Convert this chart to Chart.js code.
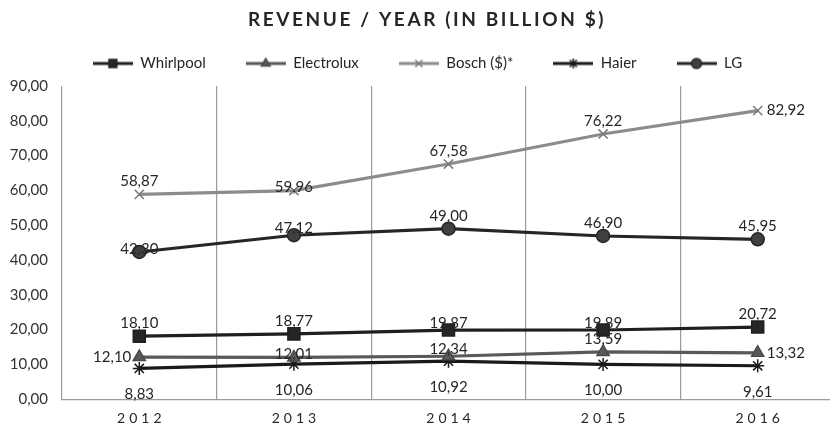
<!DOCTYPE html>
<html>
<head>
<meta charset="utf-8">
<script src="https://cdn.jsdelivr.net/npm/chart.js@4.4.1/dist/chart.umd.min.js"></script>
<style>
html, body { margin: 0; padding: 0; background: #fff; overflow: hidden; }
#wrap { width: 860px; height: 430px; }
</style>
</head>
<body>
<div id="wrap"><canvas id="chart" width="860" height="430"></canvas></div>
<script>
// chart data
const years = ['2012', '2013', '2014', '2015', '2016'];
const whirlpool = [18.10, 18.77, 19.87, 19.89, 20.72];
const electrolux = [12.10, 12.01, 12.34, 13.59, 13.32];
const bosch = [58.87, 59.96, 67.58, 76.22, 82.92];
const haier = [8.83, 10.06, 10.92, 10.00, 9.61];
const lg = [42.30, 47.12, 49.00, 46.90, 45.95];
const yMin = 0, yMax = 90, yStep = 10;
const chartTitle = 'REVENUE / YEAR (IN BILLION $)';

const FONT = 'Lato, "Open Sans", sans-serif';
Chart.defaults.font.family = FONT;
Chart.defaults.color = '#333';

// numbers are shown with a decimal comma
function fmt(v) {
    return v.toFixed(2).replace('.', ',');
}

// small line + marker picture for the legend
function legendIcon(line, fill, stroke, style, r) {
    const c = document.createElement('canvas');
    c.width = 40;
    c.height = 16;
    const ctx = c.getContext('2d');
    ctx.strokeStyle = line;
    ctx.lineWidth = 3;
    ctx.beginPath();
    ctx.moveTo(0, 8);
    ctx.lineTo(40, 8);
    ctx.stroke();
    ctx.fillStyle = fill;
    ctx.strokeStyle = stroke;
    ctx.lineWidth = 1.5;
    Chart.helpers.drawPoint(ctx, { pointStyle: style, radius: r, rotation: 0, borderWidth: 1.5 }, 20, 8);
    return c;
}

function series(label, data, line, fill, stroke, style, r, legendR, labelPos) {
    return {
        label: label,
        data: data,
        borderColor: line,
        backgroundColor: fill,
        borderWidth: 3.2,
        tension: 0,
        pointStyle: style,
        pointRadius: r,
        pointHoverRadius: r,
        pointBackgroundColor: fill,
        pointBorderColor: stroke,
        pointBorderWidth: 1.5,
        legendIcon: legendIcon(line, fill, stroke, style, legendR),
        labelPos: labelPos // t = above, u = just above, b = below, l = left, r = right, c = centre
    };
}

const datasets = [
    series('Whirlpool', whirlpool, '#1f1f1f', '#262626', '#1f1f1f', 'rect', 8.5, 5.5, ['t', 't', 'u', 'u', 't']),
    series('Electrolux', electrolux, '#595959', '#595959', '#4a4a4a', 'triangle', 7, 5, ['l', 'c', 'u', 't', 'r']),
    series('Bosch ($)*', bosch, '#8c8c8c', '#8c8c8c', '#7a7a7a', 'crossRot', 6.5, 5, ['t', 'c', 't', 't', 'r']),
    series('Haier', haier, '#1a1a1a', '#1a1a1a', '#1a1a1a', 'star', 6.5, 5, ['b', 'b', 'b', 'b', 'b']),
    series('LG', lg, '#262626', '#404040', '#262626', 'circle', 6.5, 5, ['c', 'u', 't', 't', 't'])
];

// value labels next to each point
const valueLabels = {
    id: 'valueLabels',
    afterDatasetsDraw(chart) {
        const ctx = chart.ctx;
        ctx.save();
        ctx.font = '15px ' + FONT;
        ctx.fillStyle = '#262626';
        ctx.textBaseline = 'middle';
        chart.data.datasets.forEach(function(ds, di) {
            const meta = chart.getDatasetMeta(di);
            meta.data.forEach(function(pt, i) {
                const pos = ds.labelPos[i];
                let x = pt.x, y = pt.y;
                ctx.textAlign = 'center';
                if (pos == 't') y -= 13;
                if (pos == 'u') y -= 7;
                if (pos == 'c') y -= 3;
                if (pos == 'b') y += 26;
                if (pos == 'l') { x -= 8; ctx.textAlign = 'right'; }
                if (pos == 'r') { x += 9; ctx.textAlign = 'left'; }
                ctx.fillText(fmt(ds.data[i]), x, y);
            });
        });
        ctx.restore();
    }
};

// spaced title and spaced year labels, plus a little room under the legend
const spacedText = {
    id: 'spacedText',
    beforeLayout(chart) {
        const legend = chart.legend;
        if (legend && !legend._extra) {
            const fit = legend.fit;
            legend.fit = function() {
                fit.call(this);
                this.height += 5;
            };
            legend._extra = true;
        }
    },
    afterDraw(chart) {
        const ctx = chart.ctx;
        ctx.save();
        ctx.fillStyle = '#262626';
        ctx.textAlign = 'center';
        ctx.textBaseline = 'middle';
        ctx.font = 'bold 19px ' + FONT;
        ctx.letterSpacing = '2.6px';
        ctx.fillText(chartTitle, 427, 20);

        const xs = chart.scales.x;
        ctx.font = '14px ' + FONT;
        ctx.letterSpacing = '4px';
        years.forEach(function(y, i) {
            ctx.fillText(y, xs.getPixelForValue(i) + 2, 418);
        });
        ctx.restore();
    }
};

new Chart(document.getElementById('chart'), {
    type: 'line',
    data: {
        labels: years,
        datasets: datasets
    },
    options: {
        responsive: false,
        animation: false,
        layout: {
            padding: { left: 0, right: 25, top: 16, bottom: 0 }
        },
        plugins: {
            title: { display: false },
            tooltip: { enabled: false },
            legend: {
                position: 'top',
                labels: {
                    usePointStyle: true,
                    pointStyleWidth: 40,
                    padding: 40,
                    color: '#262626',
                    font: { size: 15 },
                    generateLabels(chart) {
                        const items = Chart.defaults.plugins.legend.labels.generateLabels(chart);
                        items.forEach(function(it) {
                            it.pointStyle = chart.data.datasets[it.datasetIndex].legendIcon;
                        });
                        return items;
                    }
                }
            }
        },
        scales: {
            x: {
                offset: true,
                grid: { display: true, offset: true, color: '#9a9a9a', lineWidth: 1.2, drawTicks: false },
                border: { display: true, color: '#9a9a9a', width: 1.2 },
                ticks: { color: 'rgba(0,0,0,0)', font: { size: 14 }, padding: 7 }
            },
            y: {
                min: yMin,
                max: yMax,
                grid: { display: false, drawTicks: false },
                border: { display: false },
                ticks: {
                    stepSize: yStep,
                    padding: 14,
                    color: '#333',
                    font: { size: 15 },
                    callback: function(v) { return fmt(v); }
                },
                afterFit(scale) { scale.width = 62; }
            }
        }
    },
    plugins: [valueLabels, spacedText]
});
</script>
</body>
</html>
